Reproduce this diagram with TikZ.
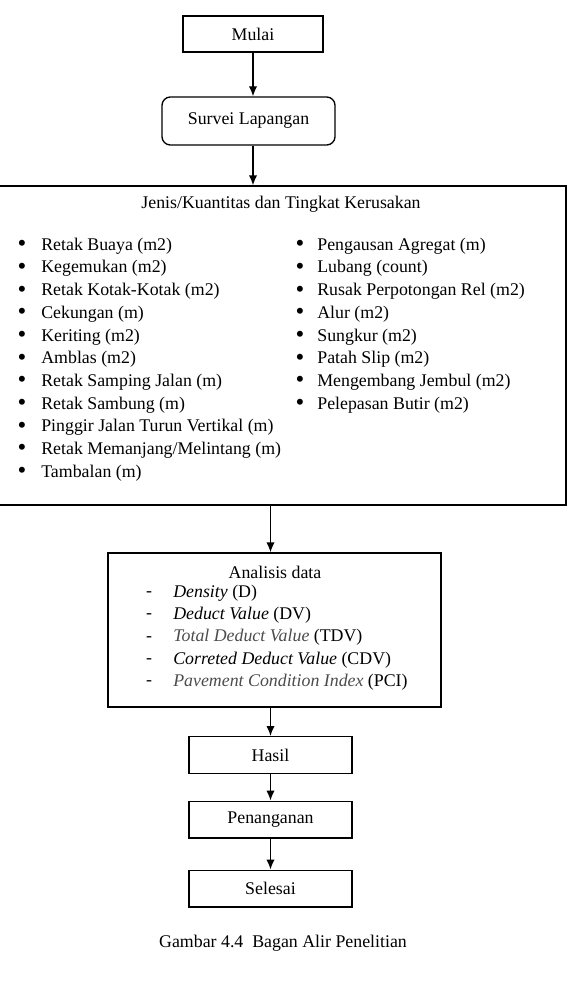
\documentclass[tikz,border=0pt]{standalone}
\usepackage{fontspec}
\setmainfont{Liberation Serif}
\usetikzlibrary{arrows.meta}

\tikzset{
    kotak/.style={draw, thick, minimum width=97.8pt, minimum height=22pt, inner sep=0pt},
    panah/.style={-{Latex[length=6pt,width=5pt]}, thick},
    butir/.style={anchor=west, inner sep=0pt},
    titik/.style={inner sep=0pt, font=\fontsize{15}{15}\selectfont},
}

\begin{document}
\begin{tikzpicture}[x=0.6pt, y=-0.6pt, font=\fontsize{10.7}{13}\selectfont]
    \useasboundingbox (0,0) rectangle (572,1001);

    % awal
    \node[kotak, minimum width=84pt, minimum height=21.6pt] (mulai) at (253,34) {Mulai};
    \node[kotak, rounded corners=5pt, minimum width=103.8pt, minimum height=28.8pt] (survei) at (248.5,121) {Survei Lapangan};

    % jenis kerusakan
    \node[kotak, minimum width=340.8pt, minimum height=191.4pt] (kerusakan) at (282,345.5) {};
    \node (judul) at (281,204) {Jenis/Kuantitas dan Tingkat Kerusakan};
    \foreach \t [count=\i] in {Retak Buaya (m2), Kegemukan (m2), Retak Kotak-Kotak (m2),
        Cekungan (m), Keriting (m2), Amblas (m2), Retak Samping Jalan (m),
        Retak Sambung (m), Pinggir Jalan Turun Vertikal (m),
        Retak Memanjang/Melintang (m), Tambalan (m)} {
        \node[titik] at (22,{246+22.7*(\i-1)}) {\textbullet};
        \node[butir] (kiri\i) at (41,{246+22.7*(\i-1)}) {\t};
    }
    \foreach \t [count=\i] in {Pengausan Agregat (m), Lubang (count),
        Rusak Perpotongan Rel (m2), Alur (m2), Sungkur (m2), Patah Slip (m2),
        Mengembang Jembul (m2), Pelepasan Butir (m2)} {
        \node[titik] at (300,{246+22.7*(\i-1)}) {\textbullet};
        \node[butir] (kanan\i) at (317,{246+22.7*(\i-1)}) {\t};
    }

    % analisis
    \node[kotak, minimum width=199.8pt, minimum height=92.4pt] (analisis) at (274.5,630) {};
    \node (judulanalisis) at (275,572) {Analisis data};
    \foreach \t [count=\i] in {\textit{Density} (D), \textit{Deduct Value} (DV),
        \textcolor{black!70}{\textit{Total Deduct Value}} (TDV),
        \textit{Correted Deduct Value} (CDV),
        \textcolor{black!70}{\textit{Pavement Condition Index}} (PCI)} {
        \node[inner sep=0pt] at (149,{594+22.3*(\i-1)}) {-};
        \node[butir] (data\i) at (173,{593+22.3*(\i-1)}) {\t};
    }

    % akhir
    \node[kotak] (hasil) at (270.5,755) {Hasil};
    \node[kotak] (penanganan) at (270.5,819.5) {Penanganan};
    \node[kotak] (selesai) at (270.5,888.5) {Selesai};

    \draw[panah] (mulai.south) -- (mulai.south |- survei.north);
    \draw[panah] (mulai.south |- survei.south) -- (mulai.south |- kerusakan.north);
    \draw[panah] (kerusakan.south -| hasil) -- (analisis.north -| hasil);
    \draw[panah] (analisis.south -| hasil) -- (hasil);
    \draw[panah] (hasil) -- (penanganan);
    \draw[panah] (penanganan) -- (selesai);

    \node (keterangan) at (283,943) {Gambar 4.4\ \ Bagan Alir Penelitian};
\end{tikzpicture}
\end{document}
